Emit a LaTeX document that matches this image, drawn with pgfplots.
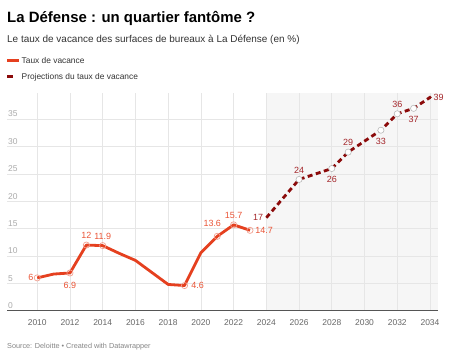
\documentclass[border=0pt]{standalone}
\usepackage{fontspec}
\setmainfont{Liberation Sans}
\usepackage{pgfplots}
\pgfplotsset{compat=1.18}
\definecolor{act}{HTML}{E5401F}
\definecolor{actlab}{HTML}{EA5537}
\definecolor{proj}{HTML}{8B0A0A}
\definecolor{projlab}{HTML}{A3262A}
\definecolor{gridc}{HTML}{E6E6E6}
\definecolor{shadec}{HTML}{F6F6F6}
\definecolor{txt}{HTML}{333333}
\definecolor{xtk}{HTML}{666666}
\definecolor{ytk}{HTML}{AAAAAA}
\definecolor{basec}{HTML}{555555}
\newcommand{\labfont}{\fontsize{9}{10}\selectfont}
\pgfplotsset{
  amark/.style={only marks, mark=o, mark size=3.1bp, mark options={draw=white!50!act, line width=0.7bp}, point meta=explicit symbolic, nodes near coords},
  pmark/.style={only marks, mark=*, mark size=3.1bp, mark options={draw=white!45!gray, fill=white, line width=0.6bp}, point meta=explicit symbolic, nodes near coords},
}
\begin{document}
\begin{tikzpicture}[x=1bp,y=1bp]
\path (0,0) rectangle (453,358);
\node[anchor=base west, inner sep=0, font=\bfseries\fontsize{15}{18}\selectfont, text=black] at (7,358-22.7) {La Défense : un quartier fantôme ?};
\node[anchor=base west, inner sep=0, font=\fontsize{10}{12}\selectfont, text=txt] at (7,358-42.3) {Le taux de vacance des surfaces de bureaux à La Défense (en \%)};
\draw[act, line width=3bp] (7,358-60) -- (19,358-60);
\node[anchor=base west, inner sep=0, font=\fontsize{8.4}{10}\selectfont, text=txt] at (21.5,358-63.3) {Taux de vacance};
\draw[proj, line width=3bp] (7,358-76.3) -- (13,358-76.3);
\node[anchor=base west, inner sep=0, font=\fontsize{8.4}{10}\selectfont, text=txt] at (21.5,358-79.3) {Projections du taux de vacance};
\node[anchor=base west, inner sep=0, font=\fontsize{7.3}{9}\selectfont, text=xtk!80] at (7,358-348) {Source: Deloitte • Created with Datawrapper};
\begin{axis}[
  at={(7.3bp,47.3bp)}, anchor=south west,
  scale only axis, width=430.7bp, height=217.4bp,
  set layers, clip=false,
  xmin=2008.17, xmax=2034.49, ymin=0, ymax=39.75,
  xtick={2010,2012,...,2034}, ytick={0,5,...,35},
  grid=major, major grid style={gridc, line width=0.7bp},
  axis line style={draw=none}, tick style={draw=none},
  /pgf/number format/assume math mode=true,
  /pgf/number format/set thousands separator={},
  xticklabel style={anchor=center, yshift=-11.5bp, font=\fontsize{8.5}{10}\selectfont, text=xtk},
  yticklabel style={anchor=south west, inner sep=0pt, xshift=0.7bp, yshift=2bp, font=\fontsize{8.5}{10}\selectfont, text=ytk},
]
\begin{pgfonlayer}{axis background}
\fill[shadec] (axis cs:2024,0) rectangle (axis cs:2034.49,39.75);
\end{pgfonlayer}
\draw[basec, line width=1.2bp] (axis cs:2008.17,0) -- (axis cs:2034.49,0);
\addplot[act, line width=2.8bp, line join=round] coordinates {(2010,6)(2011,6.7)(2012,6.9)(2013,12)(2014,11.9)(2015,10.5)(2016,9.2)(2017,7.0)(2018,4.8)(2019,4.6)(2020,10.6)(2021,13.6)(2022,15.7)(2023,14.7)};
\addplot[proj, line width=2.8bp, dash pattern=on 5bp off 3.5bp] coordinates {(2024,17)(2025,20.5)(2026,24)(2027,25)(2028,26)(2029,29)(2030,31)(2031,33)(2032,36)(2033,37)(2034,39)};
% actual labels
\addplot[amark, nodes near coords style={anchor=south, font=\labfont, text=actlab, inner sep=5.8bp}] coordinates {(2013,12)[12] (2014,11.9)[11.9] (2022,15.7)[15.7]};
\addplot[amark, nodes near coords style={anchor=south, xshift=-5bp, font=\labfont, text=actlab, inner sep=9.5bp}] coordinates {(2021,13.6)[13.6]};
\addplot[amark, nodes near coords style={anchor=north, font=\labfont, text=actlab, inner sep=8.5bp}] coordinates {(2012,6.9)[6.9]};
\addplot[amark, nodes near coords style={anchor=west, font=\labfont, text=actlab, inner sep=6.5bp}] coordinates {(2019,4.6)[4.6]};
\addplot[amark, nodes near coords style={anchor=west, font=\labfont, text=actlab, inner sep=5bp}] coordinates {(2023,14.7)[14.7]};
\addplot[amark, nodes near coords style={anchor=east, font=\labfont, text=actlab, inner sep=3.5bp}] coordinates {(2010,6)[6]};
% projection labels
\addplot[pmark, nodes near coords style={anchor=south, font=\labfont, text=projlab, inner sep=5.8bp}] coordinates {(2026,24)[24] (2029,29)[29] (2032,36)[36]};
\addplot[pmark, nodes near coords style={anchor=north, font=\labfont, text=projlab, inner sep=7.8bp}] coordinates {(2028,26)[26] (2031,33)[33] (2033,37)[37]};
\addplot[only marks, mark=none, point meta=explicit symbolic, nodes near coords, nodes near coords style={anchor=east, font=\labfont, text=projlab, inner sep=3bp}] coordinates {(2024,17)[17]};
\addplot[only marks, mark=*, mark size=1.5bp, mark options={draw=proj, fill=proj}, point meta=explicit symbolic, nodes near coords, nodes near coords style={anchor=west, font=\labfont, text=projlab, inner sep=3.5bp}] coordinates {(2034,39)[39]};
\end{axis}
\end{tikzpicture}
\end{document}
